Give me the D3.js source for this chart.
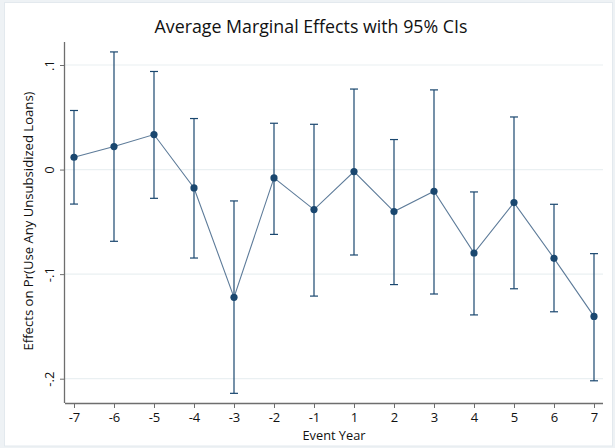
<!DOCTYPE html>
<html><head><meta charset="utf-8">
<script src="https://cdn.jsdelivr.net/npm/d3@7"></script>
<style>body{margin:0;background:#fff}svg{display:block}</style>
</head><body><svg id="c" width="615" height="448"></svg>
<script>
const years = ["-7","-6","-5","-4","-3","-2","-1","1","2","3","4","5","6","7"];
const effects = [0.0118,0.022,0.0335,-0.0176,-0.1222,-0.008,-0.0383,-0.0019,-0.0402,-0.0208,-0.0798,-0.0316,-0.0849,-0.1404];
const ciLow = [-0.033,-0.0686,-0.0275,-0.0846,-0.214,-0.062,-0.121,-0.0817,-0.110,-0.119,-0.139,-0.114,-0.136,-0.202];
const ciHigh = [0.0565,0.1125,0.0938,0.0488,-0.030,0.0443,0.0433,0.077,0.0287,0.0762,-0.0214,0.0503,-0.0332,-0.0804];
const yTicks = [-0.2,-0.1,0,0.1];
const yTickLabels = ["-.2","-.1","0",".1"];
const title = "Average Marginal Effects with 95% CIs";
const xTitle = "Event Year";
const yTitle = "Effects on Pr(Use Any Unsubsidized Loans)";

const svg = d3.select("#c");
const font = "'Open Sans', sans-serif";
const navy = "#1a476f";
svg.append("rect").attr("x",0).attr("y",0).attr("width",615).attr("height",448).attr("fill","#eef2f5");
svg.append("rect").attr("x",4.5).attr("y",2.5).attr("width",608).attr("height",443.5).attr("fill","#fff").attr("stroke","#e3e9ee");

const L=65, R=603, T=42, B=403;
const x = d3.scalePoint().domain(years).range([74,594]);
const y = d3.scaleLinear().domain([-0.2,0.1]).range([378.7,65]);

// gridlines
svg.append("g").selectAll("line").data(yTicks).join("line")
  .attr("x1",L).attr("x2",R).attr("y1",d=>y(d)).attr("y2",d=>y(d))
  .attr("stroke","#eaf0f2").attr("stroke-width",1.2);

// axes
const yAxis = d3.axisLeft(y).tickValues(yTicks).tickFormat((d,i)=>yTickLabels[i]).tickSize(5).tickPadding(4);
const gy = svg.append("g").attr("transform",`translate(${L},0)`).call(yAxis);
gy.select(".domain").attr("d",`M-0.5,${T}V${B}`).attr("stroke","#6e6e6e").attr("stroke-width",1.3);
gy.selectAll(".tick line").attr("stroke","#6e6e6e");
gy.selectAll(".tick text").attr("font-family",font).attr("font-size",13).attr("fill","#111")
  .attr("text-anchor","middle").attr("x",0).attr("y",0).attr("dy","0")
  .attr("transform","translate(-11,0) rotate(-90)");

const xAxis = d3.axisBottom(x).tickSize(5).tickPadding(5);
const gx = svg.append("g").attr("transform",`translate(0,${B})`).call(xAxis);
gx.select(".domain").attr("d",`M${L},0.5H${R}`).attr("stroke","#6e6e6e").attr("stroke-width",1.3);
gx.selectAll(".tick line").attr("stroke","#6e6e6e");
gx.selectAll(".tick text").attr("font-family",font).attr("font-size",13).attr("fill","#111");

// CIs
const ci = svg.append("g").attr("stroke",navy).attr("stroke-width",1.2).attr("fill","none");
years.forEach((yr,i)=>{
  const cx=x(yr);
  ci.append("line").attr("x1",cx).attr("x2",cx).attr("y1",y(ciLow[i])).attr("y2",y(ciHigh[i]));
  ci.append("line").attr("x1",cx-4).attr("x2",cx+4).attr("y1",y(ciLow[i])).attr("y2",y(ciLow[i]));
  ci.append("line").attr("x1",cx-4).attr("x2",cx+4).attr("y1",y(ciHigh[i])).attr("y2",y(ciHigh[i]));
});

// connecting line
const line = d3.line().x((d,i)=>x(years[i])).y(d=>y(d));
svg.append("path").datum(effects).attr("d",line).attr("fill","none").attr("stroke","#5d7b99").attr("stroke-width",1.1);

// points
svg.append("g").selectAll("circle").data(effects).join("circle")
  .attr("cx",(d,i)=>x(years[i])).attr("cy",d=>y(d)).attr("r",3.6).attr("fill",navy);

// titles
svg.append("text").attr("x",311).attr("y",33).attr("text-anchor","middle")
  .attr("font-family",font).attr("font-size",17.8).attr("fill","#111").text(title);
svg.append("text").attr("x",334).attr("y",440).attr("text-anchor","middle")
  .attr("font-family",font).attr("font-size",12.8).attr("fill","#111").text(xTitle);
svg.append("text").attr("transform","translate(33,221) rotate(-90)").attr("text-anchor","middle")
  .attr("font-family",font).attr("font-size",13.1).attr("fill","#111").text(yTitle);
</script></body></html>
